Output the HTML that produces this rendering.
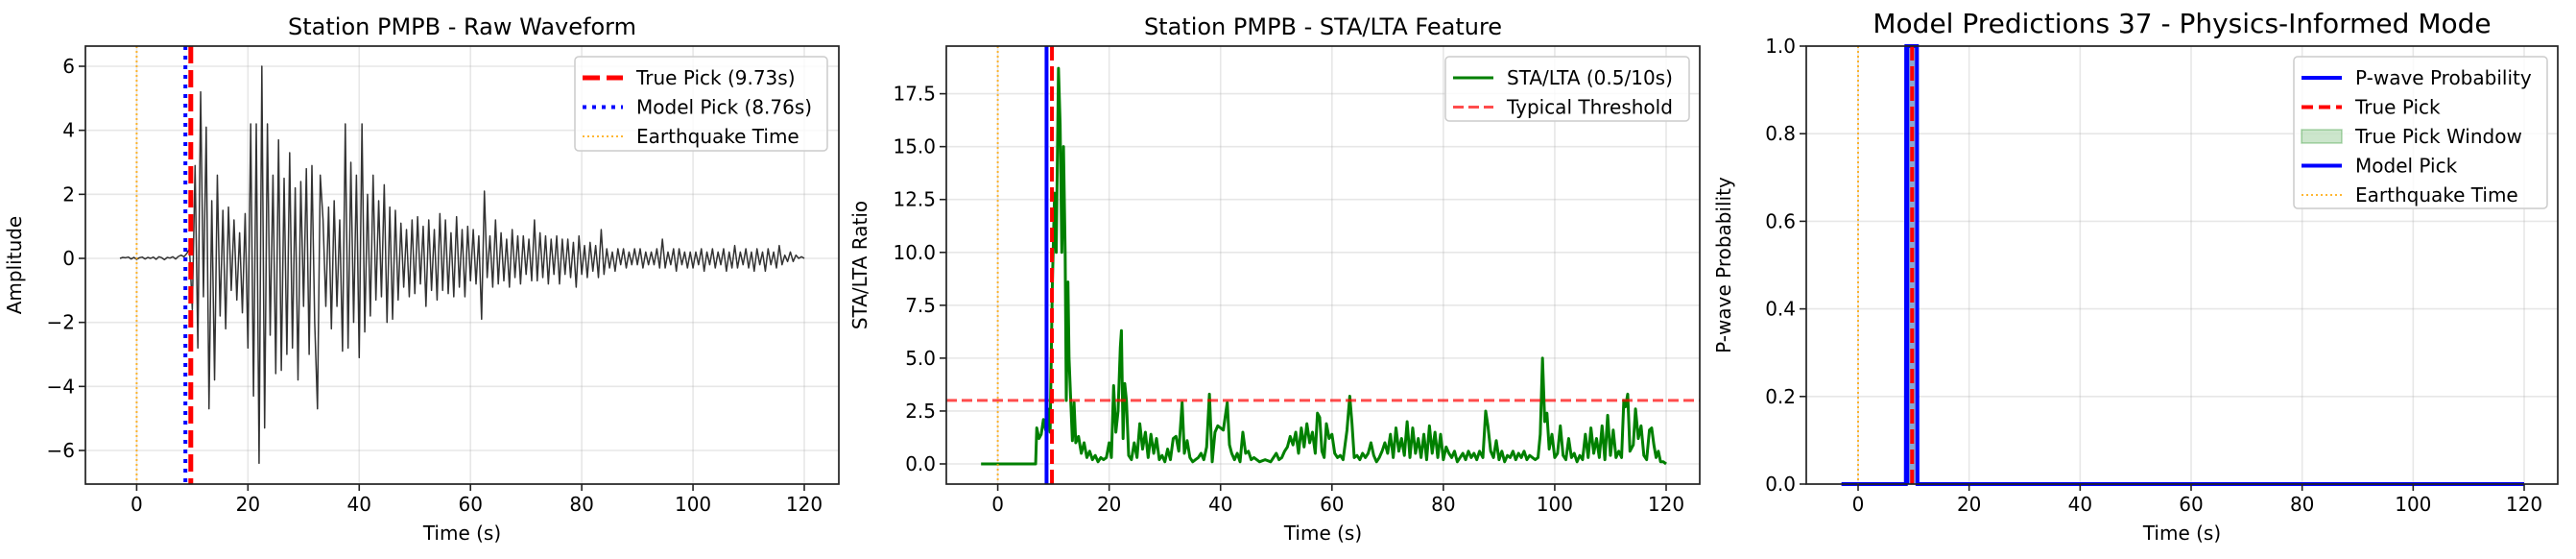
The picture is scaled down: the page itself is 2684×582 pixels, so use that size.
<!DOCTYPE html>
<html><head><meta charset="utf-8">
<style>
html,body{margin:0;padding:0;background:#fff;}
svg{display:block;font-family:"DejaVu Sans","Liberation Sans",sans-serif;}
</style></head>
<body>
<svg id="fig" width="2684" height="582" viewBox="0 0 2684 582" xmlns="http://www.w3.org/2000/svg"></svg>
<script>
// ---- data ----
const waveT0 = -3, waveDt = 0.5;
const waveValues = [
0,0.03,0.02,0.04,-0.02,0.03,
-0.03,0.02,0.04,-0.02,0.03,0,0.04,-0.03,0.05,0.02,-0.04,0.03,0.01,0.05,-0.02,0.06,0.1,0.05,0.15,0.3,
-1.6,2.9,-2.8,5.2,-1.2,4.1,-4.7,1.8,-3.8,2.6,-1.8,1.5,-2.2,1.6,-1.0,1.2,-1.3,0.8,-1.7,1.4,
-2.8,4.2,-4.3,4.2,-6.4,6.0,-5.3,4.2,-2.4,2.6,-3.6,3.7,-3.5,2.5,-3.0,3.3,-2.8,2.2,-3.8,2.4,
-1.5,2.8,-3.0,2.9,-2.0,-4.7,2.6,1.2,-1.5,1.6,-2.2,1.8,-1.5,1.2,-2.9,4.2,-2.8,3.0,-2.0,2.6,
-3.1,4.2,-2.3,2.0,-1.8,2.6,-1.3,1.8,-1.2,2.3,-2.0,1.6,-1.9,1.5,-1.3,1.1,-0.9,0.9,-1.2,1.2,
-1.1,1.3,-0.8,1.0,-1.5,1.2,-1.0,0.9,-1.3,1.4,-1.0,1.2,-1.1,0.8,-1.2,1.3,-0.9,0.9,-1.2,1.0,
-0.7,0.9,-0.8,0.7,-1.9,2.1,-0.6,0.7,-0.9,1.2,-0.8,0.8,-0.7,0.6,-0.9,0.9,-0.6,0.7,-0.8,0.7,
-0.5,0.6,-0.7,1.2,-0.7,0.8,-0.6,0.7,-0.8,0.6,-0.5,0.7,-0.8,0.6,-0.5,0.6,-0.6,0.5,-0.9,0.7,
-0.5,0.4,-0.6,0.5,-0.4,0.4,-0.6,0.9,-0.5,0.3,-0.3,0.2,-0.4,0.3,-0.2,0.3,-0.3,0.2,-0.2,0.3,
-0.2,0.3,-0.3,0.2,-0.2,0.2,-0.2,0.3,-0.3,0.6,-0.3,0.2,-0.2,0.3,-0.4,0.3,-0.2,0.2,-0.3,0.2,
-0.3,0.2,-0.2,0.3,-0.4,0.2,-0.2,0.3,-0.3,0.2,-0.2,0.3,-0.4,0.2,-0.3,0.4,-0.3,0.2,-0.2,0.3,
-0.3,0.2,-0.4,0.3,-0.2,0.2,-0.4,0.3,-0.2,0.2,-0.3,0.4,-0.2,0.1,-0.1,0.2,-0.1,0.1,0,0.05,0];
const staTimes = [-3,6.8,7.0,7.4,7.8,8.2,8.6,9.0,9.4,9.8,10.2,10.5,10.9,11.2,11.5,11.8,12.1,12.3,12.6,12.8,13.1,13.4,13.7,14.0,14.5,15,15.5,16,16.5,17,17.5,18,18.5,19,19.5,20,20.4,20.8,21.2,21.6,22.0,22.2,22.5,22.8,23.1,23.5,24,24.5,25,25.5,26,26.5,27,27.5,28,28.5,29,29.5,30,30.5,31,31.5,32,32.5,33.1,33.5,34,34.5,35,35.5,36,36.5,37,37.5,38,38.5,39,39.5,40,40.5,41.2,41.6,42,42.5,43,43.5,44,44.5,45,45.5,46,47,48,49,50,50.5,51,51.5,52,52.5,53,53.5,54,54.5,55,55.5,56,56.5,57,57.4,57.8,58.2,58.6,59,59.5,60,60.5,61,61.5,62.0,62.7,63.2,63.6,64,64.5,65,65.5,66,66.5,67,67.5,68,68.5,69,69.5,70,70.5,71,71.5,72,72.5,73,73.5,74,74.5,75,75.5,76,76.5,77,77.5,78,78.5,79,79.5,80,80.5,81,81.5,82,82.5,83,83.5,84,84.5,85,85.5,86,86.5,87.1,87.6,88,88.5,89,89.5,90,90.5,91,91.5,92,92.5,93,93.5,94,94.5,95,95.5,96,96.5,97,97.4,97.8,98.2,98.6,99,99.5,100,100.5,101,101.5,102,102.5,103,103.5,104,104.5,105,105.5,106,106.5,107,107.5,108,108.5,109,109.5,110,110.5,111,111.5,112,112.4,112.7,113.1,113.5,114.1,114.5,115,115.5,116,116.5,117,117.4,117.8,118.2,118.6,119,119.5,120];
const staValues = [0,0,1.7,1.2,1.4,2.1,1.6,2.6,1.5,8.5,12.8,10.0,18.7,16.0,10.0,15.0,10.0,3.0,8.6,5.0,3.0,1.1,2.9,1.0,1.3,0.5,1.0,0.3,0.6,0.2,0.4,0.1,0.3,0.2,0.3,1.0,0.3,3.7,1.5,2.5,5.5,6.3,1.2,3.8,3.0,0.4,0.2,1.0,0.3,1.9,0.7,1.5,0.3,1.4,0.5,1.2,0.2,0.4,0.1,0.7,0.2,1.2,1.3,0.6,2.9,0.5,1.1,0.3,0.1,0.2,0.3,0.5,0.2,0.8,3.3,0.1,1.5,1.8,1.7,1.6,2.9,0.9,0.5,0.2,0.5,0.1,1.5,0.5,0.6,0.2,0.3,0.1,0.2,0.1,0.5,0.2,0.3,0.6,0.8,1.3,0.9,1.5,0.5,1.7,0.8,1.9,1.0,1.5,0.5,2.4,2.2,0.6,0.3,1.9,1.2,1.4,0.5,0.3,0.4,0.2,1.6,3.2,1.9,0.3,0.4,0.2,0.5,0.3,0.5,1.0,0.4,0.1,0.3,0.6,1.0,0.5,1.4,0.3,1.7,0.6,1.2,0.4,2.0,0.3,1.7,0.5,1.2,0.3,1.4,0.2,1.8,0.5,1.5,0.3,1.4,0.2,0.8,0.5,0.3,0.6,0.1,0.3,0.5,0.2,0.6,0.3,0.5,0.2,0.6,0.3,2.5,1.8,0.6,0.3,1.1,0.2,0.6,0.1,0.4,0.3,0.6,0.2,0.5,0.3,0.6,0.2,0.4,0.3,0.2,0.3,1.4,5.0,2.0,2.4,0.7,1.4,0.3,0.5,1.8,0.4,0.2,1.2,0.3,0.5,0.1,0.4,0.2,1.4,0.3,1.7,0.5,1.2,0.3,1.8,0.2,2.3,0.4,1.6,0.3,0.6,0.3,3.0,2.7,3.3,0.6,0.9,2.6,1.2,1.8,0.4,0.2,1.6,1.7,0.9,0.3,0.6,0.1,0.1,0];
const probTimes = [-3,8.6,8.7,10.6,10.7,120];
const probValues = [0,0,1,1,0,0];
const truePick = 9.73, modelPick = 8.76, quakeTime = 0;
const xTicks = [0,20,40,60,80,100,120];
const yTicks1 = [-6,-4,-2,0,2,4,6];
const yTicks1Labels = ["\u22126","\u22124","\u22122","0","2","4","6"];
const yTicks2 = [0,2.5,5,7.5,10,12.5,15,17.5];
const yTicks2Labels = ["0.0","2.5","5.0","7.5","10.0","12.5","15.0","17.5"];
const yTicks3 = [0,0.2,0.4,0.6,0.8,1.0];
const yTicks3Labels = ["0.0","0.2","0.4","0.6","0.8","1.0"];
const staThreshold = 3.0;

const NS = "http://www.w3.org/2000/svg";
const svg = document.getElementById('fig');
function mk(tag, attrs, parent, name, inter){
  const el = document.createElementNS(NS, tag);
  for (const k in attrs) el.setAttribute(k, attrs[k]);
  
  
  (parent || svg).appendChild(el);
  return el;
}
function txt(x,y,s,size,anchor,name,extra){
  const t = mk('text', Object.assign({x:x,y:y,'font-size':size,'text-anchor':anchor||'middle',fill:'#000'}, extra||{}), null, name, false);
  t.textContent = s; return t;
}
function makeAxes(cfg){
  const {L,R,T,B,x0px,x120px,ymin,ymax,y0val,y0px,y1val,y1px} = cfg;
  const sx = v => x0px + (v-0)*(x120px-x0px)/120;
  const sy = v => y0px + (v-y0val)*(y1px-y0px)/(y1val-y0val);
  const g = mk('g',{},null,cfg.name,false);
  // grid
  xTicks.forEach(v=>{ mk('line',{x1:sx(v),x2:sx(v),y1:T,y2:B,stroke:'#b0b0b0','stroke-opacity':0.3,'stroke-width':1.6},g,'x-grid-line',false); });
  cfg.yt.forEach(v=>{ mk('line',{x1:L,x2:R,y1:sy(v),y2:sy(v),stroke:'#b0b0b0','stroke-opacity':0.3,'stroke-width':1.6},g,'y-grid-line',false); });
  return {sx,sy,g};
}
function frame(cfg, sx, sy){
  const {L,R,T,B} = cfg;
  mk('rect',{x:L,y:T,width:R-L,height:B-T,fill:'none',stroke:'#222','stroke-width':1.7},null,'axes-frame',false);
  xTicks.forEach(v=>{
    mk('line',{x1:sx(v),x2:sx(v),y1:B,y2:B+7,stroke:'#222','stroke-width':1.6},null,'x-tick',false);
    txt(sx(v),B+28,String(v),20,'middle','x-tick-label');
  });
  cfg.yt.forEach((v,i)=>{
    mk('line',{x1:L-7,x2:L,y1:sy(v),y2:sy(v),stroke:'#222','stroke-width':1.6},null,'y-tick',false);
    txt(L-11,sy(v)+7,cfg.ytl[i],20,'end','y-tick-label');
  });
  txt((L+R)/2,B+58,'Time (s)',20,'middle','x-axis-title');
  const yl = txt(0,0,cfg.ylabel,20,'middle','y-axis-title',{transform:`translate(${cfg.ylx},${(T+B)/2}) rotate(-90)`});
  txt((L+R)/2,cfg.titleY,cfg.title,cfg.titleSize,'middle','chart-title');
}
function pathFrom(xs, ys, sx, sy){
  return xs.map((x,i)=>(i?'L':'M')+sx(x).toFixed(2)+','+sy(ys[i]).toFixed(2)).join('');
}
function legend(x,y,w,h,items,name){
  const g = mk('g',{},null,name,false);
  mk('rect',{x:x,y:y,width:w,height:h,rx:4,fill:'#fff','fill-opacity':0.8,stroke:'#ccc','stroke-width':1.5},g,'legend-box',false);
  items.forEach((it,i)=>{
    const cy = y+ 22 + i*30.5;
    if (it.patch){
      mk('rect',{x:x+8,y:cy-7,width:42,height:14,fill:'green','fill-opacity':0.2,stroke:'green','stroke-opacity':0.3,'stroke-width':1.5},g,'legend-swatch',false);
    } else {
      const a = {x1:x+8,x2:x+50,y1:cy,y2:cy,stroke:it.color,'stroke-width':it.w};
      if (it.dash) a['stroke-dasharray']=it.dash;
      if (it.op) a['stroke-opacity']=it.op;
      mk('line',a,g,'legend-swatch',false);
    }
    const t = mk('text',{x:x+64,y:cy+7,'font-size':20,fill:'#000'},g,'legend-entry',false);
    t.textContent = it.label;
  });
}

// ---- Panel 1 ----
const c1 = {name:'waveform-panel',L:89,R:874,T:48,B:504,x0px:142.4,x120px:838,y0val:-6,y0px:469,y1val:6,y1px:69,yt:yTicks1,ytl:yTicks1Labels,ylabel:'Amplitude',ylx:22,title:'Station PMPB - Raw Waveform',titleY:36,titleSize:24};
{
  const {sx,sy,g} = makeAxes(c1);
  const wt = waveValues.map((_,i)=>waveT0+i*waveDt);
  mk('path',{d:pathFrom(wt,waveValues,sx,sy),fill:'none',stroke:'#000','stroke-opacity':0.8,'stroke-width':1.5,'stroke-linejoin':'round'},g,'waveform-line',false);
  mk('line',{x1:sx(truePick),x2:sx(truePick),y1:c1.T,y2:c1.B,stroke:'red','stroke-width':5,'stroke-dasharray':'18,7'},g,'true-pick-line',false);
  mk('line',{x1:sx(modelPick),x2:sx(modelPick),y1:c1.T,y2:c1.B,stroke:'blue','stroke-width':4,'stroke-dasharray':'4,6'},g,'model-pick-line',false);
  mk('line',{x1:sx(quakeTime),x2:sx(quakeTime),y1:c1.T,y2:c1.B,stroke:'orange','stroke-opacity':0.8,'stroke-width':2,'stroke-dasharray':'2,3'},g,'earthquake-time-line',false);
  frame(c1,sx,sy);
  legend(599,59,263,98,[
    {label:'True Pick (9.73s)',color:'red',w:5,dash:'18,7'},
    {label:'Model Pick (8.76s)',color:'blue',w:4,dash:'4,6'},
    {label:'Earthquake Time',color:'orange',w:2,dash:'2,3',op:0.8}],'waveform-legend');
}
// ---- Panel 2 ----
const c2 = {name:'sta-lta-panel',L:986,R:1771,T:48,B:504,x0px:1039.6,x120px:1736,y0val:0,y0px:483,y1val:17.5,y1px:97.6,yt:yTicks2,ytl:yTicks2Labels,ylabel:'STA/LTA Ratio',ylx:903,title:'Station PMPB - STA/LTA Feature',titleY:36,titleSize:24};
{
  const {sx,sy,g} = makeAxes(c2);
  mk('path',{d:pathFrom(staTimes,staValues,sx,sy),fill:'none',stroke:'green','stroke-width':3,'stroke-linejoin':'round'},g,'sta-lta-line',false);
  mk('line',{x1:c2.L,x2:c2.R,y1:sy(staThreshold),y2:sy(staThreshold),stroke:'red','stroke-opacity':0.7,'stroke-width':3,'stroke-dasharray':'11,5'},g,'threshold-line',false);
  mk('line',{x1:sx(truePick),x2:sx(truePick),y1:c2.T,y2:c2.B,stroke:'red','stroke-width':4,'stroke-dasharray':'15,6'},g,'true-pick-line',false);
  mk('line',{x1:sx(modelPick),x2:sx(modelPick),y1:c2.T,y2:c2.B,stroke:'blue','stroke-width':4},g,'model-pick-line',false);
  mk('line',{x1:sx(quakeTime),x2:sx(quakeTime),y1:c2.T,y2:c2.B,stroke:'orange','stroke-opacity':0.8,'stroke-width':2,'stroke-dasharray':'2,3'},g,'earthquake-time-line',false);
  frame(c2,sx,sy);
  legend(1506,59,254,67,[
    {label:'STA/LTA (0.5/10s)',color:'green',w:3},
    {label:'Typical Threshold',color:'red',w:3,dash:'11,5',op:0.7}],'sta-lta-legend');
}
// ---- Panel 3 ----
const c3 = {name:'prediction-panel',L:1882,R:2665,T:48,B:504,x0px:1936,x120px:2630,y0val:0,y0px:504,y1val:1,y1px:48,yt:yTicks3,ytl:yTicks3Labels,ylabel:'P-wave Probability',ylx:1803,title:'Model Predictions 37 - Physics-Informed Mode',titleY:34,titleSize:28};
{
  const {sx,sy,g} = makeAxes(c3);
  mk('rect',{x:sx(probTimes[2]),y:sy(1),width:sx(probTimes[3])-sx(probTimes[2]),height:sy(0)-sy(1),fill:'#8aa6d0'},g,'true-pick-window',false);
  mk('path',{d:pathFrom(probTimes,probValues,sx,sy),fill:'none',stroke:'blue','stroke-width':4},g,'probability-line',false);
  mk('line',{x1:sx(truePick),x2:sx(truePick),y1:c3.T,y2:c3.B,stroke:'red','stroke-width':4,'stroke-dasharray':'15,6'},g,'true-pick-line',false);
  mk('line',{x1:sx(modelPick),x2:sx(modelPick),y1:c3.T,y2:c3.B,stroke:'blue','stroke-width':5},g,'model-pick-line',false);
  mk('line',{x1:sx(quakeTime),x2:sx(quakeTime),y1:c3.T,y2:c3.B,stroke:'orange','stroke-opacity':0.8,'stroke-width':2,'stroke-dasharray':'2,3'},g,'earthquake-time-line',false);
  frame(c3,sx,sy);
  legend(2390,59,264,158,[
    {label:'P-wave Probability',color:'blue',w:4},
    {label:'True Pick',color:'red',w:4,dash:'12,6'},
    {label:'True Pick Window',patch:true},
    {label:'Model Pick',color:'blue',w:4},
    {label:'Earthquake Time',color:'orange',w:2,dash:'2,3',op:0.8}],'prediction-legend');
}
</script>
</body></html>
